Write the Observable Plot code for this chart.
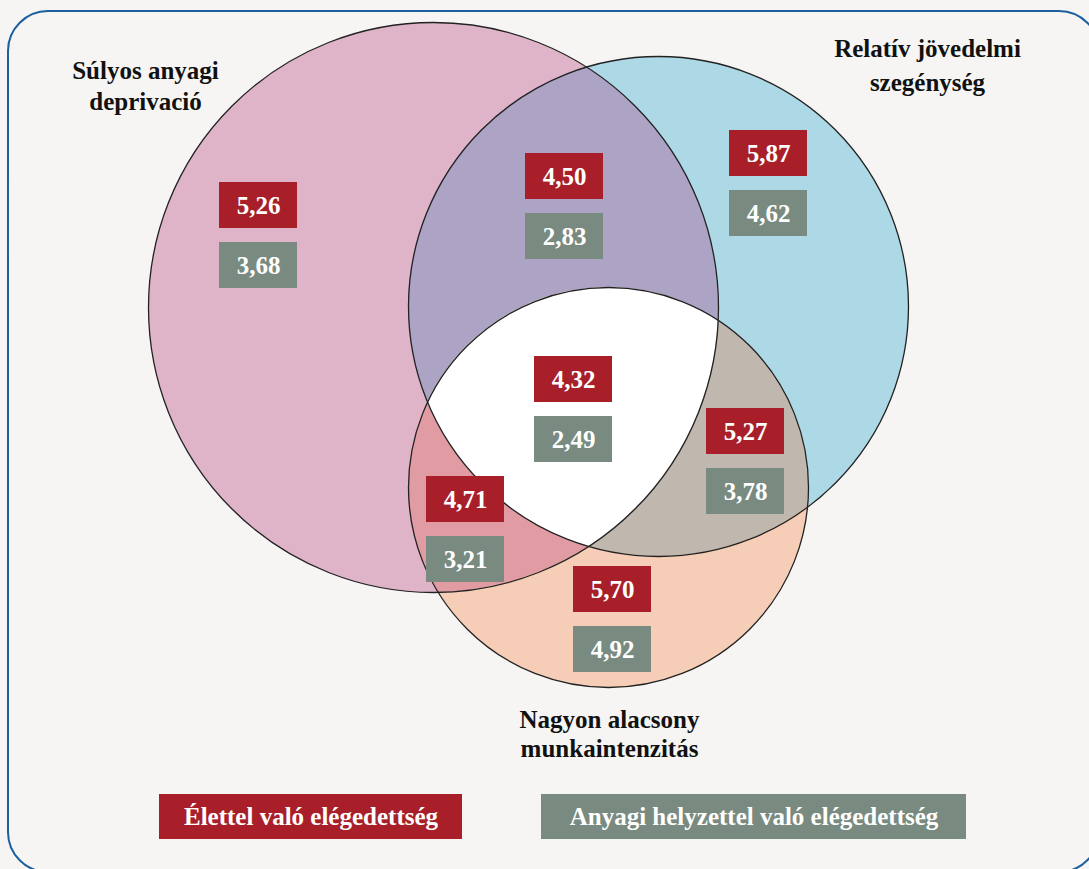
<!DOCTYPE html>
<html>
<head>
<meta charset="utf-8">
<script src="https://cdn.jsdelivr.net/npm/d3@7"></script>
<script src="https://cdn.jsdelivr.net/npm/@observablehq/plot@0.6"></script>
<style>
  html, body { margin: 0; padding: 0; background: #f6f5f3; }
  #chart svg { display: block; }
</style>
</head>
<body>
<div id="chart"></div>
<script>
// ---- Data ----
const regionKeys = ["A", "AB", "B", "ABC", "BC", "AC", "C"];
const lifeSatisfaction = [5.26, 4.50, 5.87, 4.32, 5.27, 4.71, 5.70];
const materialSatisfaction = [3.68, 2.83, 4.62, 2.49, 3.78, 3.21, 4.92];
const setKeys = ["A", "B", "C"];
const setLabels = ["Súlyos anyagi\ndeprivació", "Relatív jövedelmi\nszegénység", "Nagyon alacsony\nmunkaintenzitás"];
const legendLabels = ["Élettel való elégedettség", "Anyagi helyzettel való elégedettség"];

// ---- Layout (positions in chart units) ----
const W = 1089, H = 869;
const circleGeom = {A: {cx: 433, cy: 307, r: 285}, B: {cx: 658, cy: 306, r: 250}, C: {cx: 608, cy: 487, r: 200}};
const boxCenter = {A: [258, 205], AB: [564, 176], B: [768, 153], ABC: [573, 379], BC: [745, 431], AC: [465, 499], C: [612, 589]};
const boxOffset = 60, boxW = 78, boxH = 46;
const labelPos = {A: [145, 84], B: [927, 63], C: [609, 733]};
const labelLineHeight = {A: 1.22, B: 1.36, C: 1.14};
const legendBoxes = [[159, 462], [541, 966]];
const legendY = [794, 839];

const colors = {
  A: "#e0b4c8", B: "#add8e6", C: "#f6cdb6",
  AB: "#ada3c5", AC: "#e09ba3", BC: "#c0b8ae", ABC: "#ffffff",
  red: "#a81f29", gray: "#798a80", border: "#1b5f9e", bg: "#f6f5f3"
};
const FONT = "'Liberation Serif', 'DejaVu Serif', serif";
const fmt = v => d3.format(".2f")(v).replace(".", ",");

const regions = regionKeys.map((k, i) => ({key: k, life: lifeSatisfaction[i], mat: materialSatisfaction[i], cx: boxCenter[k][0], cy: boxCenter[k][1]}));
const boxes = regions.flatMap(d => [
  {x: d.cx, y: d.cy, fill: colors.red, text: fmt(d.life)},
  {x: d.cx, y: d.cy + boxOffset, fill: colors.gray, text: fmt(d.mat)}
]);
const sets = setKeys.map((k, i) => ({key: k, label: setLabels[i], ...circleGeom[k], lx: labelPos[k][0], ly: labelPos[k][1]}));
const legend = legendLabels.map((t, i) => ({text: t, x1: legendBoxes[i][0], x2: legendBoxes[i][1], fill: i === 0 ? colors.red : colors.gray}));

// Render mark for the overlap regions (clipped circles)
function overlaps(index, scales) {
  const sx = scales.x || (v => v), sy = scales.y || (v => v);
  const rs = c => Math.abs(sx(c.cx + c.r) - sx(c.cx));
  const g = d3.create("svg:g");
  const defs = g.append("defs");
  const uid = "venn" + Math.random().toString(36).slice(2);
  for (const k of setKeys) {
    const c = circleGeom[k];
    defs.append("clipPath").attr("id", `${uid}-${k}`)
      .append("circle").attr("cx", sx(c.cx)).attr("cy", sy(c.cy)).attr("r", rs(c));
  }
  const draw = (parent, k, fill) => {
    const c = circleGeom[k];
    parent.append("circle").attr("cx", sx(c.cx)).attr("cy", sy(c.cy)).attr("r", rs(c)).attr("fill", fill);
  };
  draw(g.append("g").attr("clip-path", `url(#${uid}-A)`), "B", colors.AB);
  draw(g.append("g").attr("clip-path", `url(#${uid}-A)`), "C", colors.AC);
  draw(g.append("g").attr("clip-path", `url(#${uid}-B)`), "C", colors.BC);
  draw(g.append("g").attr("clip-path", `url(#${uid}-A)`).append("g").attr("clip-path", `url(#${uid}-B)`), "C", colors.ABC);
  return g.node();
}

const chart = Plot.plot({
  width: W, height: H,
  margin: 0,
  style: {background: colors.bg, fontFamily: FONT},
  x: {domain: [0, W], range: [0, W], axis: null},
  y: {domain: [0, H], range: [0, H], axis: null},
  marks: [
    Plot.rect([0], {x1: 8, x2: 1099, y1: 11, y2: 872, rx: 40, fill: colors.bg, stroke: colors.border, strokeWidth: 2}),
    // base circles
    ...sets.map(s => Plot.dot([s], {x: "cx", y: "cy", r: s.r, fill: colors[s.key], stroke: "none"})),
    overlaps,
    // outlines
    ...sets.map(s => Plot.dot([s], {x: "cx", y: "cy", r: s.r, fill: "none", stroke: "#222", strokeWidth: 1.3})),
    // set labels
    ...sets.map(s => Plot.text([s], {x: "lx", y: "ly", text: "label", fill: "#111", fontSize: 25, fontWeight: "bold", lineHeight: labelLineHeight[s.key], textAnchor: "middle"})),
    // value boxes
    Plot.rect(boxes, {x1: d => d.x - boxW / 2, x2: d => d.x + boxW / 2, y1: d => d.y - boxH / 2, y2: d => d.y + boxH / 2, fill: "fill"}),
    Plot.text(boxes, {x: "x", y: "y", text: "text", fill: "white", fontSize: 25, fontWeight: "bold"}),
    // legend
    Plot.rect(legend, {x1: "x1", x2: "x2", y1: legendY[0], y2: legendY[1], fill: "fill"}),
    Plot.text(legend, {x: d => (d.x1 + d.x2) / 2, y: (legendY[0] + legendY[1]) / 2, text: "text", fill: "white", fontSize: 25, fontWeight: "bold"})
  ]
});
document.getElementById("chart").append(chart);
</script>
</body>
</html>
